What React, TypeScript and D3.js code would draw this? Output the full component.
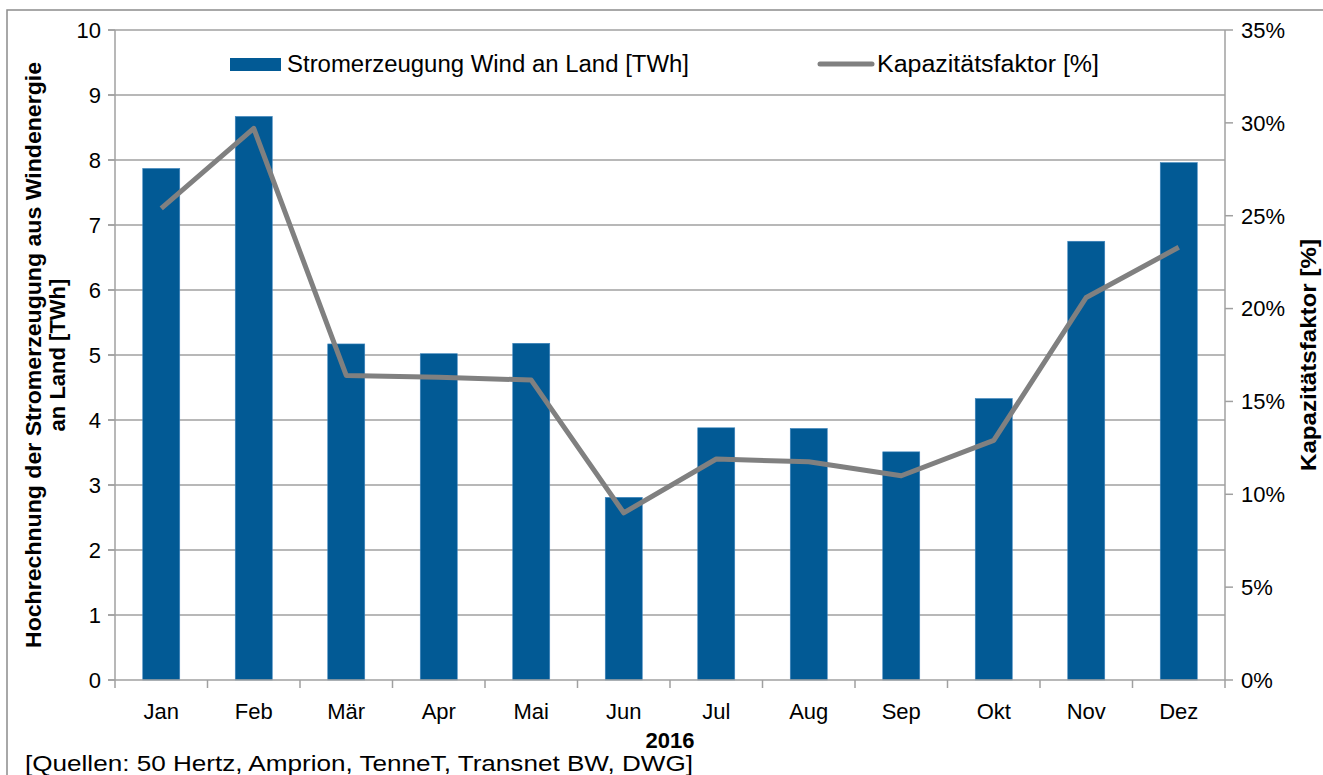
import { useMemo } from "react";
import * as d3 from "d3";

const width = 1323;
const height = 775;
const margin = { top: 30, right: 98, bottom: 95, left: 115 };

const months = ["Jan", "Feb", "Mär", "Apr", "Mai", "Jun", "Jul", "Aug", "Sep", "Okt", "Nov", "Dez"];
// Stromerzeugung Wind an Land [TWh]
const production = [7.87, 8.67, 5.17, 5.02, 5.18, 2.81, 3.88, 3.87, 3.51, 4.33, 6.75, 7.96];
// Kapazitätsfaktor [%]
const capacity = [25.4, 29.7, 16.4, 16.3, 16.15, 9.0, 11.9, 11.75, 11.0, 12.9, 20.6, 23.3];
const leftTicks = [0, 1, 2, 3, 4, 5, 6, 7, 8, 9, 10];
const rightTicks = [0, 5, 10, 15, 20, 25, 30, 35];

const barColor = "#025a95";
const lineColor = "#808080";
const gridColor = "#a0a0a0";
const font = "'Liberation Sans', Arial, sans-serif";

const App = () => {
  const { xScale, yLeft, yRight, linePath } = useMemo(() => {
    const xScale = d3
      .scaleBand()
      .domain(months)
      .range([margin.left, width - margin.right])
      .padding(0);
    const yLeft = d3
      .scaleLinear()
      .domain([0, 10])
      .range([height - margin.bottom, margin.top]);
    const yRight = d3
      .scaleLinear()
      .domain([0, 35])
      .range([height - margin.bottom, margin.top]);
    const line = d3
      .line<number>()
      .x((_, i) => (xScale(months[i]) as number) + xScale.bandwidth() / 2)
      .y((d) => yRight(d));
    return { xScale, yLeft, yRight, linePath: line(capacity) as string };
  }, []);

  const bw = xScale.bandwidth();
  const barW = bw * 0.4;
  const x0 = margin.left;
  const x1 = width - margin.right;
  const yBase = height - margin.bottom;
  const plotMid = (margin.top + yBase) / 2;

  return (
    <svg
      width={width}
      height={height}
      style={{ position: "absolute", left: 0, top: 0, background: "#fff" }}
      fontFamily={font}
    >
      {/* chart frame */}
      <rect x={7} y={10} width={1400} height={900} fill="none" stroke="#8c8c8c" strokeWidth={1.5} />

      {/* gridlines */}
      {leftTicks.slice(1).map((t) => (
        <line key={t} x1={x0 - 7} x2={x1} y1={yLeft(t)} y2={yLeft(t)} stroke={gridColor} strokeWidth={1.5} />
      ))}

      {/* bars */}
      {production.map((v, i) => (
        <rect
          key={i}
          x={(xScale(months[i]) as number) + bw / 2 - barW / 2}
          y={yLeft(v)}
          width={barW}
          height={yBase - yLeft(v)}
          fill={barColor}
          stroke="#3f86bd"
          strokeWidth={0.6}
        />
      ))}

      {/* capacity line */}
      <path d={linePath} fill="none" stroke={lineColor} strokeWidth={5} strokeLinejoin="round" />

      {/* left axis */}
      <line x1={x0} x2={x0} y1={margin.top} y2={yBase} stroke={gridColor} strokeWidth={1.5} />
      {leftTicks.map((t) => (
        <g key={t}>
          <line x1={x0 - 7} x2={x0} y1={yLeft(t)} y2={yLeft(t)} stroke={gridColor} strokeWidth={1.5} />
          <text x={x0 - 14} y={yLeft(t)} dy="0.36em" textAnchor="end" fontSize={22} fill="#000">
            {t}
          </text>
        </g>
      ))}

      {/* right axis */}
      <line x1={x1} x2={x1} y1={margin.top} y2={yBase} stroke={gridColor} strokeWidth={1.5} />
      {rightTicks.map((t) => (
        <g key={t}>
          <line x1={x1} x2={x1 + 8} y1={yRight(t)} y2={yRight(t)} stroke={gridColor} strokeWidth={1.5} />
          <text x={x1 + 16} y={yRight(t)} dy="0.36em" textAnchor="start" fontSize={22} fill="#000">
            {t}%
          </text>
        </g>
      ))}

      {/* x axis */}
      <line x1={x0 - 7} x2={x1} y1={yBase} y2={yBase} stroke={gridColor} strokeWidth={1.5} />
      {months.map((m) => (
        <line
          key={"t" + m}
          x1={xScale(m) as number}
          x2={xScale(m) as number}
          y1={yBase}
          y2={yBase + 8}
          stroke={gridColor}
          strokeWidth={1.5}
        />
      ))}
      <line x1={x1} x2={x1} y1={yBase} y2={yBase + 8} stroke={gridColor} strokeWidth={1.5} />
      {months.map((m) => (
        <text
          key={m}
          x={(xScale(m) as number) + bw / 2}
          y={yBase + 39}
          textAnchor="middle"
          fontSize={22}
          fill="#000"
        >
          {m}
        </text>
      ))}
      <text x={(x0 + x1) / 2} y={yBase + 68} textAnchor="middle" fontSize={22} fontWeight="bold" fill="#000">
        2016
      </text>

      {/* axis titles */}
      <text
        transform={`translate(41, ${plotMid}) rotate(-90)`}
        textAnchor="middle"
        fontSize={22}
        fontWeight="bold"
        fill="#000"
        textLength={586}
        lengthAdjust="spacingAndGlyphs"
      >
        Hochrechnung der Stromerzeugung aus Windenergie
      </text>
      <text transform={`translate(65, ${plotMid}) rotate(-90)`} textAnchor="middle" fontSize={22} fontWeight="bold" fill="#000">
        an Land [TWh]
      </text>
      <text
        transform={`translate(1316, ${plotMid}) rotate(-90)`}
        textAnchor="middle"
        fontSize={22}
        fontWeight="bold"
        fill="#000"
        textLength={232}
        lengthAdjust="spacingAndGlyphs"
      >
        Kapazitätsfaktor [%]
      </text>

      {/* legend */}
      <rect x={230} y={58} width={51} height={13} fill={barColor} />
      <text x={287} y={72} fontSize={23} fill="#000" textLength={402} lengthAdjust="spacingAndGlyphs">
        Stromerzeugung Wind an Land [TWh]
      </text>
      <line x1={820} x2={872} y1={64} y2={64} stroke={lineColor} strokeWidth={5} strokeLinecap="round" />
      <text x={877} y={72} fontSize={23} fill="#000" textLength={222} lengthAdjust="spacingAndGlyphs">
        Kapazitätsfaktor [%]
      </text>

      {/* source */}
      <text x={25} y={771} fontSize={22} fill="#000" textLength={668} lengthAdjust="spacingAndGlyphs">
        [Quellen: 50 Hertz, Amprion, TenneT, Transnet BW, DWG]
      </text>
    </svg>
  );
};

export default App;
